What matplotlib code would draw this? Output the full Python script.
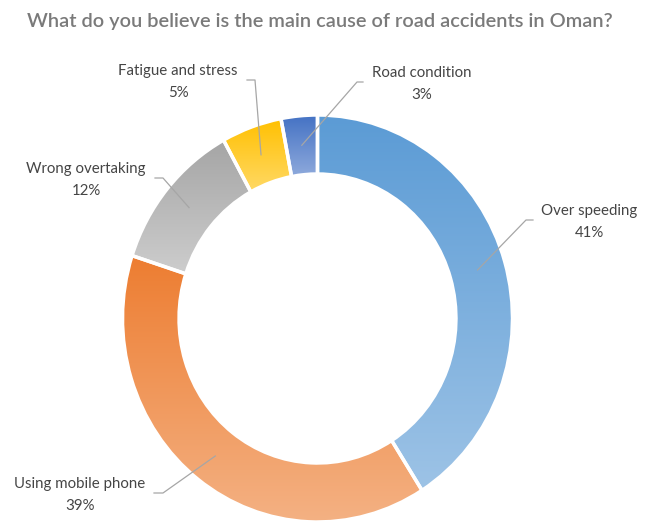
import numpy as np
import matplotlib.pyplot as plt
from matplotlib.colors import LinearSegmentedColormap

causes = ["Over speeding", "Using mobile phone", "Wrong overtaking",
          "Fatigue and stress", "Road condition"]
shares = [41, 39, 12, 5, 3]
top_colors = ["#5B9BD5", "#ED7D31", "#A5A5A5", "#FFC000", "#4472C4"]
bottom_colors = ["#9DC3E6", "#F4B183", "#CDCDCD", "#FFD966", "#8FAADC"]

W, H = 652, 523
cx, cy = 317.5, 318.5   # ring centre in px
rx, ry = 195, 203.5     # outer radii in px (ring is slightly stretched)
ring = 0.29

# label anchors and leader elbows, px
label_xy = [(589, 222), (80, 495), (86, 180), (178, 82), (422, 84)]
elbows = [[(526, 220), (533, 220)], [(163, 493), (154, 493)],
          [(163, 178), (155, 178)], [(255, 80), (247, 80)],
          [(357, 82), (363, 82)]]

plt.rcParams['font.family'] = ['Lato', 'DejaVu Sans']

fig = plt.figure(figsize=(W / 100, H / 100), dpi=100)
ax = fig.add_axes([(cx - rx) / W, (H - cy - ry) / H, 2 * rx / W, 2 * ry / H])
wedges, _ = ax.pie(shares, startangle=90, counterclock=False, radius=1,
                   wedgeprops=dict(width=ring, edgecolor="white", linewidth=2.5))

# vertical gradient inside each slice
grad = np.linspace(0, 1, 256).reshape(-1, 1)
for w, c0, c1 in zip(wedges, top_colors, bottom_colors):
    bb = w.get_path().get_extents()
    cmap = LinearSegmentedColormap.from_list("", [c0, c1])
    im = ax.imshow(grad, cmap=cmap, extent=(bb.x0, bb.x1, bb.y0, bb.y1),
                   origin="upper", aspect="auto", zorder=1)
    im.set_clip_path(w)
    w.set_facecolor("none")
    w.set_zorder(2)

ax.set_aspect("auto")
ax.set_xlim(-1, 1)
ax.set_ylim(-1, 1)
ax.axis("off")

ov = fig.add_axes([0, 0, 1, 1])
ov.set_xlim(0, W)
ov.set_ylim(H, 0)
ov.axis("off")

cum = 0
for cause, share, (tx, ty), elb in zip(causes, shares, label_xy, elbows):
    theta = np.deg2rad(90 - 360 * (cum + share / 2) / 100)
    cum += share
    r = 1 - ring / 2
    sx = cx + rx * r * np.cos(theta)
    sy = cy - ry * r * np.sin(theta)
    xs = [sx] + [p[0] for p in elb]
    ys = [sy] + [p[1] for p in elb]
    ov.plot(xs, ys, color="#A6A6A6", lw=0.9)
    ov.text(tx, ty, f"{cause}\n{share}%", ha="center", va="center",
            fontsize=10.8, color="#454545", linespacing=1.65)

fig.text(320 / W, 1 - 21 / H,
         "What do you believe is the main cause of road accidents in Oman?",
         ha="center", va="center", fontsize=14.4, color="#7A7A7A",
         fontweight="semibold")

fig.savefig("out.png", dpi=100)
